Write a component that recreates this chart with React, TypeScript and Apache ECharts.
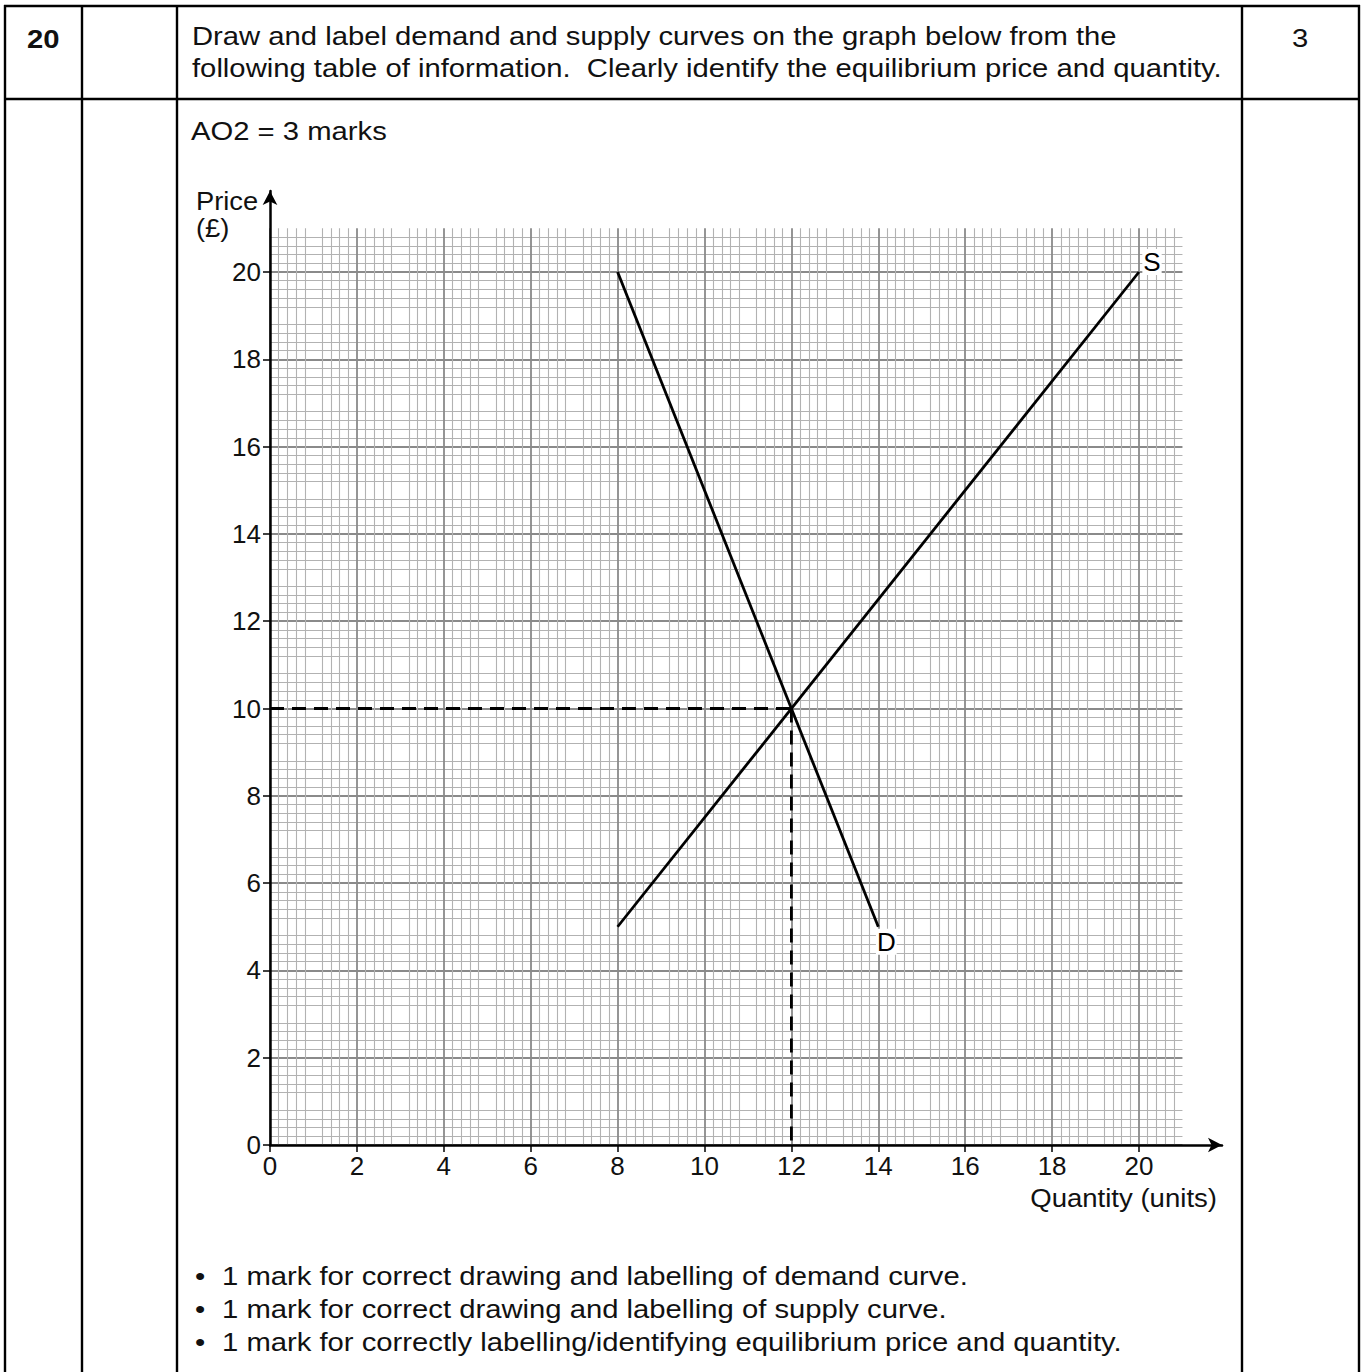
import React, { useEffect, useRef } from "react";
import * as echarts from "echarts";

// ---- data ----
const demandQty = [8, 14];
const demandPrice = [20, 5];
const supplyQty = [8, 20];
const supplyPrice = [5, 20];
const eqQty = 12;
const eqPrice = 10;
const xTickLabels = [0, 2, 4, 6, 8, 10, 12, 14, 16, 18, 20];
const yTickLabels = [0, 2, 4, 6, 8, 10, 12, 14, 16, 18, 20];
const gridMax = 21;

const headerLines = [
  "Draw and label demand and supply curves on the graph below from the",
  "following table of information.  Clearly identify the equilibrium price and quantity.",
];
const bulletLines = [
  "1 mark for correct drawing and labelling of demand curve.",
  "1 mark for correct drawing and labelling of supply curve.",
  "1 mark for correctly labelling/identifying equilibrium price and quantity.",
];

const FONT = "'Liberation Sans', Arial, Helvetica, sans-serif";
const FS = 26;
const INK = "#111";

export default function App() {
  const ref = useRef<HTMLDivElement>(null);
  useEffect(() => {
    if (!ref.current) return;
    const chart = echarts.init(ref.current, undefined, { renderer: "svg" });

    // geometry of graph paper
    const x0 = 270, y0 = 1145;
    const ux = 43.45, uy = 43.65;
    const gA = { left: x0, top: y0 - gridMax * uy, width: gridMax * ux, height: gridMax * uy };
    const arrowX = 1222, arrowY = 191;
    const gB = { left: x0, top: arrowY, width: arrowX - x0, height: y0 - arrowY };

    const lw = 2.4;
    const tableLines: any[] = [];
    const vx = [5, 82, 177, 1242, 1359];
    vx.forEach((x) =>
      tableLines.push({ type: "line", shape: { x1: x, y1: 5, x2: x, y2: 1372 }, style: { stroke: "#000", lineWidth: lw } })
    );
    [6, 99].forEach((y) =>
      tableLines.push({ type: "line", shape: { x1: 4, y1: y, x2: 1360, y2: y }, style: { stroke: "#000", lineWidth: lw } })
    );

    const texts: any[] = [];
    // y is the top of the text box
    const txt = (x: number, y: number, s: string, extra: any = {}, sx = 1.125) =>
      texts.push({
        type: "text",
        x,
        y,
        scaleX: sx,
        style: { text: s, fontFamily: FONT, fontSize: FS, fill: INK, verticalAlign: "top", ...extra },
      });
    txt(27, 26, "20", { fontWeight: "bold" });
    txt(1292, 25, "3");
    headerLines.forEach((l, i) => txt(192, 23 + i * 32, l));
    txt(191, 118, "AO2 = 3 marks");
    bulletLines.forEach((l, i) => {
      txt(195, 1263 + i * 33, "\u2022");
      txt(222, 1263 + i * 33, l);
    });
    txt(196, 188, "Price", {}, 1.05);
    txt(196, 215, "(\u00a3)", {}, 1.05);
    txt(1217, 1185, "Quantity (units)", { align: "right" }, 1.06);

    const majorLine = { show: true, lineStyle: { color: "#8a8a8a", width: 1.8 } };
    const minorLine = { show: true, lineStyle: { color: "#b2b2b2", width: 1.1 } };
    const labelStyle = { fontFamily: FONT, fontSize: FS, color: INK };

    const option: any = {
      animation: false,
      backgroundColor: "#fff",
      grid: [
        { ...gA, containLabel: false },
        { ...gB, containLabel: false },
      ],
      xAxis: [
        {
          type: "value",
          gridIndex: 0,
          min: 0,
          max: gridMax,
          interval: 1,
          axisLine: { show: false },
          axisTick: { show: true, customValues: xTickLabels, length: 7, lineStyle: { color: "#000", width: 1.5 } },
          axisLabel: { show: true, customValues: xTickLabels, margin: 8, ...labelStyle },
          splitLine: majorLine,
          minorTick: { show: false, splitNumber: 5 },
          minorSplitLine: minorLine,
        },
        {
          type: "value",
          gridIndex: 1,
          min: 0,
          max: (arrowX - x0) / ux,
          axisLine: { show: true, symbol: ["none", "arrow"], symbolSize: [11, 14], lineStyle: { color: "#000", width: 2.5 } },
          axisTick: { show: false },
          axisLabel: { show: false },
          splitLine: { show: false },
        },
      ],
      yAxis: [
        {
          type: "value",
          gridIndex: 0,
          min: 0,
          max: gridMax,
          interval: 1,
          axisLine: { show: false },
          axisTick: { show: true, customValues: yTickLabels, length: 7, lineStyle: { color: "#000", width: 1.5 } },
          axisLabel: { show: true, customValues: yTickLabels, margin: 9, ...labelStyle },
          splitLine: majorLine,
          minorTick: { show: false, splitNumber: 5 },
          minorSplitLine: minorLine,
        },
        {
          type: "value",
          gridIndex: 1,
          min: 0,
          max: (y0 - arrowY) / uy,
          axisLine: { show: true, symbol: ["none", "arrow"], symbolSize: [11, 14], lineStyle: { color: "#000", width: 2.5 } },
          axisTick: { show: false },
          axisLabel: { show: false },
          splitLine: { show: false },
        },
      ],
      series: [
        {
          name: "Demand",
          type: "line",
          xAxisIndex: 0,
          yAxisIndex: 0,
          data: demandQty.map((q, i) => [q, demandPrice[i]]),
          symbol: "none",
          lineStyle: { color: "#000", width: 2.8 },
          z: 5,
        },
        {
          name: "Supply",
          type: "line",
          xAxisIndex: 0,
          yAxisIndex: 0,
          data: supplyQty.map((q, i) => [q, supplyPrice[i]]),
          symbol: "none",
          lineStyle: { color: "#000", width: 2.8 },
          z: 5,
        },
        {
          name: "Eq price",
          type: "line",
          xAxisIndex: 0,
          yAxisIndex: 0,
          data: [[0, eqPrice], [eqQty, eqPrice]],
          symbol: "none",
          lineStyle: { color: "#000", width: 2.8, type: [14, 8] },
          z: 4,
        },
        {
          name: "Eq quantity",
          type: "line",
          xAxisIndex: 0,
          yAxisIndex: 0,
          data: [[eqQty, eqPrice], [eqQty, 0]],
          symbol: "none",
          lineStyle: { color: "#000", width: 2.8, type: [14, 8] },
          z: 4,
        },
        {
          name: "Labels",
          type: "scatter",
          xAxisIndex: 0,
          yAxisIndex: 0,
          symbolSize: 1,
          itemStyle: { color: "rgba(255,255,255,0)" },
          z: 6,
          data: [
            {
              name: "S",
              value: [supplyQty[supplyQty.length - 1], supplyPrice[supplyPrice.length - 1]],
              label: { offset: [13, -10] },
            },
            {
              name: "D",
              value: [demandQty[demandQty.length - 1], demandPrice[demandPrice.length - 1]],
              label: { offset: [8, 15] },
            },
          ],
          label: {
            show: true,
            position: "inside",
            formatter: (p: any) => p.name,
            fontFamily: FONT,
            fontSize: FS,
            color: "#000",
            opacity: 1,
            textBorderWidth: 0,
            backgroundColor: "#fff",
            padding: [0, 1],
          },
        },
      ],
      graphic: [...tableLines, ...texts],
    };
    chart.setOption(option);
    return () => chart.dispose();
  }, []);

  return (
    <div
      ref={ref}
      style={{ position: "absolute", left: 0, top: 0, width: 1367, height: 1372, background: "#fff" }}
    />
  );
}
